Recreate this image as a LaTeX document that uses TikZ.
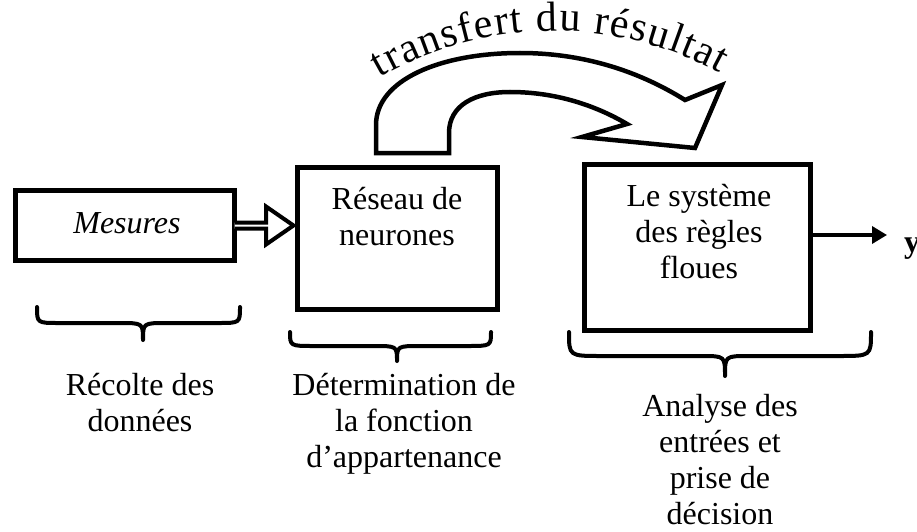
\documentclass[tikz,border=0pt]{standalone}
\usepackage{fontspec}
\newfontfamily\tnr{Liberation Serif}
\usetikzlibrary{calc,arrows.meta,decorations.text}

% curly brace: left x, right x, middle x, top y, bar y, tip y, end radius
\newcommand\curlybrace[7]{%
  \draw[bracepath] (#1,#4) .. controls (#1,#5) .. ([xshift=#7pt]#1,#5)
    -- ([xshift=-24pt]#3,#5) .. controls (#3,#5) .. (#3,#6)
    .. controls (#3,#5) .. ([xshift=24pt]#3,#5)
    -- ([xshift=-#7pt]#2,#5) .. controls (#2,#5) .. (#2,#4);}

\begin{document}
\begin{tikzpicture}[x=1pt,y=-1pt,
  blockbox/.style={draw, line width=5pt, inner sep=0pt, outer sep=0pt},
  txt/.style={font=\tnr\fontsize{32}{36}\selectfont, align=center, inner sep=0pt, anchor=base},
  bracepath/.style={draw, line width=4pt, line cap=round, line join=round},
  hollow/.style={draw, line width=4pt, fill=white, line join=miter},
  bigarrow/.style={draw, line width=4.5pt, fill=white, line join=miter},
  outarrow/.style={draw, line width=3.5pt, -{Triangle[length=15pt,width=17pt]}}]

\useasboundingbox (0,0) rectangle (917,532);

% blocks
\node[blockbox, minimum width=219pt, minimum height=70pt]  (mes) at (125,225.5) {};
\node[blockbox, minimum width=200pt, minimum height=142pt] (res) at (397.5,238.5) {};
\node[blockbox, minimum width=226pt, minimum height=166pt] (sys) at (697.5,247.5) {};

% block texts (anchored on the baseline of their last line)
\node[anchor=base, inner sep=0pt, font=\tnr\itshape\fontsize{32}{36}\selectfont] (mest) at (127,233) {Mesures};
\node[txt] (rest) at (397,245) {Réseau de\\neurones};
\node[txt] (syst) at (699,278) {Le système\\des règles\\floues};

% hollow arrow from the measurements to the network
\draw[hollow] ($(mes.east)+(0,-3)$) -- ++(31.5,0) -- ++(0,-16)
  -- ($(res.west |- mes.east)+(-4,0)$)
  -- ($(mes.east)+(31.5,19)$) -- ++(0,-16) -- ($(mes.east)+(0,3)$);

% output
\coordinate (yend) at (887,235);
\draw[outarrow] (sys.east |- yend) -- (yend);
\node[anchor=base west, inner sep=0pt, font=\tnr\bfseries\fontsize{32}{36}\selectfont] (yout) at (904,252) {y};

% curved transfer arrow
\draw[bigarrow] (376,153) -- (376,125) .. controls (376,80) and (440,53) .. (520,53)
  .. controls (590,53) and (645,75) .. (685,100)
  -- (722,85) -- (695,148) -- (582,137) -- (627,124)
  .. controls (600,108) and (560,92) .. (510,92)
  .. controls (475,92) and (449,105) .. (449,133) -- (449,153) -- cycle;

% label bent along the transfer arrow
\begin{scope}
\tnr\fontsize{42}{42}\selectfont
\path[decorate, decoration={text along path, text align=fit to path,
  text={transfert du résultat}}]
  (380,77.6) arc[start angle=-120, end angle=-61.5, radius=348];
\end{scope}

% braces
\curlybrace{37}{240}{143}{307}{323}{340}{22}
\curlybrace{290}{491}{397}{332}{346}{361}{24}
\curlybrace{569}{871}{725}{332}{356}{376}{32}

% brace captions (anchored on the baseline of their last line)
\node[txt] (rec) at (140,431) {Récolte des\\données};
\node[txt] (det) at (404,467) {Détermination de\\la fonction\\d’appartenance};
\node[txt] (ana) at (720,524) {Analyse des\\entrées et\\prise de\\décision};

\end{tikzpicture}
\end{document}
